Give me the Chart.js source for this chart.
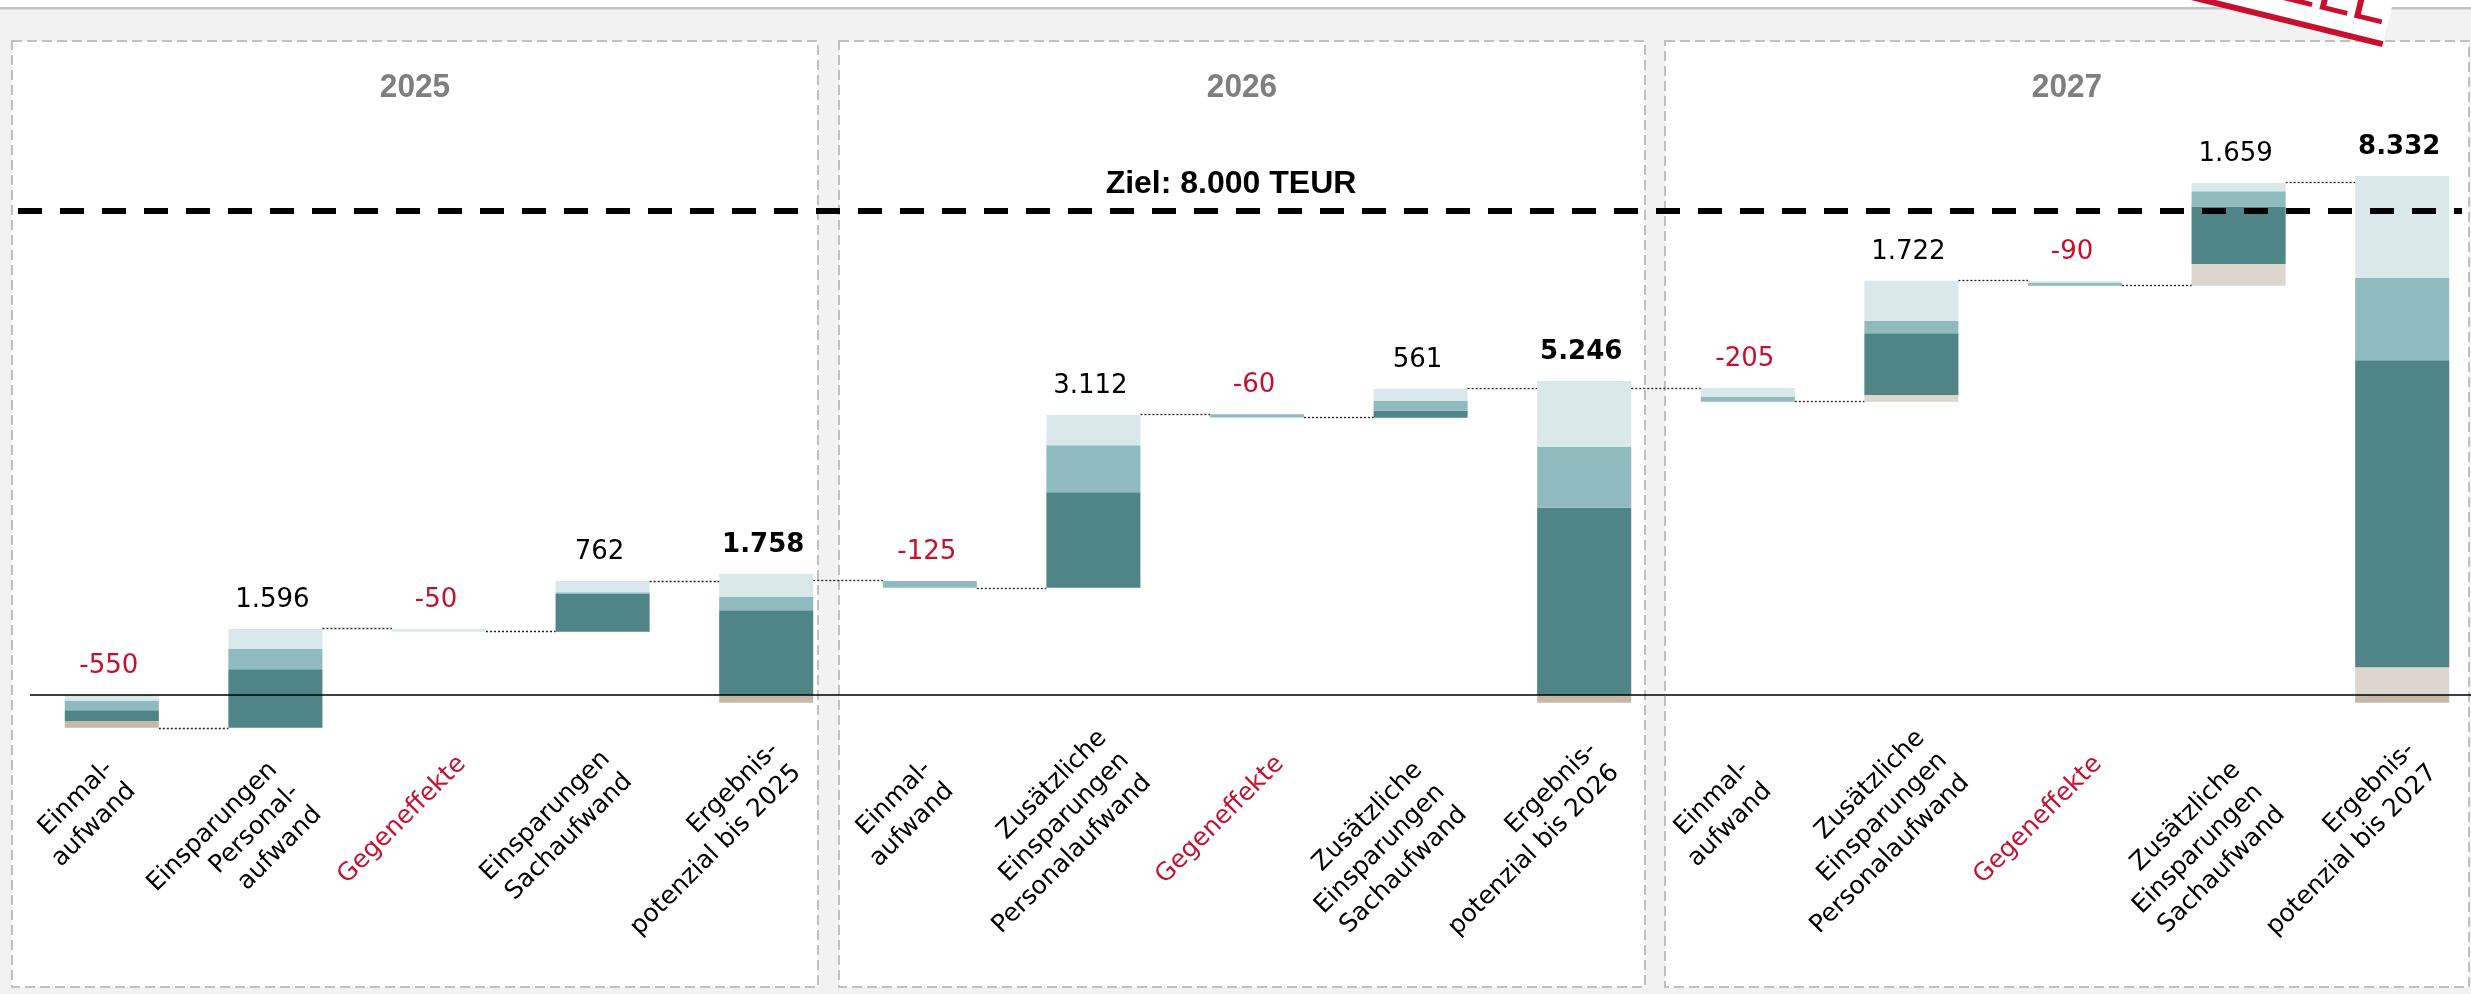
<!DOCTYPE html>
<html lang="de">
<head>
<meta charset="utf-8">
<title>Ergebnispotenzial 2025 - 2027</title>
<script src="https://cdn.jsdelivr.net/npm/chart.js@4.4.1/dist/chart.umd.min.js"></script>
<style>
  html, body { margin: 0; padding: 0; background: #f2f2f2; overflow: hidden; }
  #wrap { position: relative; width: 2471px; height: 994px; overflow: hidden; }
  #waterfall { position: absolute; left: 0; top: 0; }
</style>
</head>
<body>
<div id="wrap"><canvas id="waterfall" width="2500" height="994"></canvas></div>
<script>
const years = ["2025", "2026", "2027"];

const categories = [
  ["Einmal-", "aufwand"],
  ["Einsparungen", "Personal-", "aufwand"],
  ["Gegeneffekte"],
  ["Einsparungen", "Sachaufwand"],
  ["Ergebnis-", "potenzial bis 2025"],
  ["Einmal-", "aufwand"],
  ["Zusätzliche", "Einsparungen", "Personalaufwand"],
  ["Gegeneffekte"],
  ["Zusätzliche", "Einsparungen", "Sachaufwand"],
  ["Ergebnis-", "potenzial bis 2026"],
  ["Einmal-", "aufwand"],
  ["Zusätzliche", "Einsparungen", "Personalaufwand"],
  ["Gegeneffekte"],
  ["Zusätzliche", "Einsparungen", "Sachaufwand"],
  ["Ergebnis-", "potenzial bis 2027"],
];

// einmal / spar / gegen / ergebnis
const stepKinds = [
  "einmal", "spar", "gegen", "spar", "ergebnis",
  "einmal", "spar", "gegen", "spar", "ergebnis",
  "einmal", "spar", "gegen", "spar", "ergebnis",
];

const valueLabels = [
  "-550", "1.596", "-50", "762", "1.758",
  "-125", "3.112", "-60", "561", "5.246",
  "-205", "1.722", "-90", "1.659", "8.332",
];

// floating segments [von, bis] in TEUR
const lightTeal = [
  [-90, 0], [760, 1090], [1046, 1091], [1700, 1885], [1620, 2000],
  null, [4130, 4630], null, [4860, 5063], [4100, 5190],
  [4926, 5074], [6180, 6848], [6810, 6843], [8327, 8461], [6898, 8580],
];
const midTeal = [
  [-250, -90], [425, 760], null, [1670, 1700], [1400, 1620],
  [1774, 1884], [3350, 4130], [4585, 4640], [4700, 4860], [3096, 4100],
  [4848, 4926], [5978, 6180], [6765, 6810], [8074, 8327], [5532, 6898],
];
const darkTeal = [
  [-430, -250], [-540, 425], null, [1046, 1670], [0, 1400],
  null, [1774, 3350], null, [4583, 4700], [0, 3096],
  null, [4959, 5978], null, [7126, 8074], [458, 5532],
];
const beigeLight = [
  null, null, null, null, null,
  null, null, null, null, null,
  null, [4848, 4959], null, [6765, 7126], [0, 458],
];
const beigeDark = [
  [-540, -430], null, null, null, [-127, 0],
  null, null, null, null, [-127, 0],
  null, null, null, null, [-130, 0],
];

// dotted connector level between bar i and bar i+1
const connectors = [-540, 1100, 1063, 1889, 1893, 1774, 4645, 4590, 5070, 5074, 4854, 6860, 6772, 8480];

const targetValue = 8000;
const targetLabel = "Ziel: 8.000 TEUR";

const RED = "#c8102e";
const panels = [
  { x0: 12, x1: 818 },
  { x0: 839, x1: 1645 },
  { x0: 1665, x1: 2469 },
];

const backgroundPlugin = {
  id: "background",
  beforeDraw(chart) {
    const ctx = chart.ctx;
    ctx.save();
    ctx.fillStyle = "#f2f2f2";
    ctx.fillRect(0, 0, chart.width, chart.height);
    ctx.fillStyle = "#ffffff";
    ctx.fillRect(0, 0, chart.width, 7);
    ctx.fillStyle = "#c4c4c4";
    ctx.fillRect(0, 7, chart.width, 2.5);

    panels.forEach(function (p, i) {
      ctx.fillStyle = "#ffffff";
      ctx.fillRect(p.x0, 41, p.x1 - p.x0, 946);
      ctx.strokeStyle = "#c0c0c0";
      ctx.lineWidth = 2;
      ctx.setLineDash([10, 5]);
      ctx.strokeRect(p.x0, 41, p.x1 - p.x0, 946);
      ctx.setLineDash([]);

      ctx.save();
      ctx.translate((p.x0 + p.x1) / 2, 97);
      ctx.scale(0.93, 1);
      ctx.fillStyle = "#7f7f7f";
      ctx.font = "bold 34px 'Liberation Sans', Arial, sans-serif";
      ctx.textAlign = "center";
      ctx.textBaseline = "alphabetic";
      ctx.fillText(years[i], 0, 0);
      ctx.restore();
    });
    ctx.restore();
  },
};

function barTop(i) {
  let top = -Infinity;
  [lightTeal, midTeal, darkTeal, beigeLight, beigeDark].forEach(function (s) {
    if (s[i]) top = Math.max(top, s[i][0], s[i][1]);
  });
  return top;
}

// where the first line of a rotated label ends, relative to tick and zero line
function labelAnchor(n, w) {
  if (n === 1) return { dx: 23, dy: 65 };
  if (n === 2) return { dx: -2.3 + 0.09 * (w - 107), dy: 70 - 0.15 * (w - 107) };
  return { dx: -1 + 0.28 * (w - 176), dy: 68 - 0.77 * (w - 176) };
}

const overlayPlugin = {
  id: "overlay",
  afterDatasetsDraw(chart) {
    const ctx = chart.ctx;
    const xs = chart.scales.x;
    const ys = chart.scales.y;
    const step = xs.getPixelForValue(1) - xs.getPixelForValue(0);
    const halfW = (step * 0.575) / 2;
    ctx.save();

    // connectors
    ctx.strokeStyle = "#222";
    ctx.lineWidth = 1.3;
    ctx.setLineDash([2, 2]);
    connectors.forEach(function (v, i) {
      const y = Math.round(ys.getPixelForValue(v)) + 0.5;
      ctx.beginPath();
      ctx.moveTo(xs.getPixelForValue(i) + halfW, y);
      ctx.lineTo(xs.getPixelForValue(i + 1) - halfW, y);
      ctx.stroke();
    });
    ctx.setLineDash([]);

    // zero line
    const y0 = ys.getPixelForValue(0);
    ctx.strokeStyle = "#000";
    ctx.lineWidth = 1.5;
    ctx.beginPath();
    ctx.moveTo(chart.chartArea.left, y0);
    ctx.lineTo(chart.width, y0);
    ctx.stroke();

    // target line
    const yT = ys.getPixelForValue(targetValue);
    ctx.lineWidth = 6;
    ctx.setLineDash([24, 18]);
    ctx.beginPath();
    ctx.moveTo(18, yT);
    ctx.lineTo(2462, yT);
    ctx.stroke();
    ctx.setLineDash([]);
    ctx.fillStyle = "#000";
    ctx.font = "bold 32px 'Liberation Sans', Arial, sans-serif";
    ctx.textAlign = "center";
    ctx.textBaseline = "alphabetic";
    ctx.fillText(targetLabel, 1231, yT - 18);

    // value labels
    valueLabels.forEach(function (txt, i) {
      const kind = stepKinds[i];
      ctx.font = (kind === "ergebnis" ? "bold " : "") + "26px 'DejaVu Sans', Verdana, sans-serif";
      ctx.fillStyle = kind === "einmal" || kind === "gegen" ? RED : "#000";
      ctx.textAlign = "center";
      ctx.fillText(txt, xs.getPixelForValue(i) - 3, ys.getPixelForValue(barTop(i)) - 22);
    });

    // category labels, rotated 45 degrees, lines right aligned
    const lineStep = 22.3;
    ctx.font = "25px 'DejaVu Sans', Verdana, sans-serif";
    ctx.textAlign = "right";
    ctx.textBaseline = "middle";
    categories.forEach(function (lines, i) {
      const w = Math.max.apply(null, lines.map(function (l) { return ctx.measureText(l).width; }));
      const a = labelAnchor(lines.length, w);
      const x = xs.getPixelForValue(i) + a.dx;
      const y = y0 + a.dy;
      ctx.fillStyle = stepKinds[i] === "gegen" ? RED : "#000";
      lines.forEach(function (line, j) {
        ctx.save();
        ctx.translate(x + j * lineStep, y + j * lineStep);
        ctx.rotate(-Math.PI / 4);
        ctx.fillText(line, 0, 0);
        ctx.restore();
      });
    });
    ctx.restore();
  },
  afterDraw(chart) {
    // "MODELL" stamp, mostly outside the picture
    const ctx = chart.ctx;
    ctx.save();
    ctx.translate(2382, 47);
    ctx.rotate((13.8 * Math.PI) / 180);
    ctx.fillStyle = "#ffffff";
    ctx.fillRect(-460, -140, 460, 140);
    ctx.fillStyle = RED;
    ctx.fillRect(-460, -6, 460, 6);
    ctx.font = "64px 'Liberation Sans', Arial, sans-serif";
    ctx.textAlign = "right";
    ctx.textBaseline = "alphabetic";
    ctx.fillText("MODELL", -4, -22);
    ctx.restore();
  },
};

const ctx = document.getElementById("waterfall").getContext("2d");
const waterfall = new Chart(ctx, {
  type: "bar",
  data: {
    labels: categories.map(function (c) { return c.join(" "); }),
    datasets: [
      { label: "hell", data: lightTeal, backgroundColor: "#d9e8eb" },
      { label: "mittel", data: midTeal, backgroundColor: "#8fbbbf" },
      { label: "dunkel", data: darkTeal, backgroundColor: "#4f8587" },
      { label: "beige hell", data: beigeLight, backgroundColor: "#ddd6cf" },
      { label: "beige dunkel", data: beigeDark, backgroundColor: "#c5b8ab" },
    ],
  },
  options: {
    responsive: false,
    animation: false,
    devicePixelRatio: 1,
    layout: { padding: { left: 30, right: 16, top: 29.5, bottom: 57 } },
    datasets: { bar: { categoryPercentage: 1, barPercentage: 0.575, borderWidth: 0 } },
    plugins: {
      legend: { display: false },
      tooltip: { enabled: false },
    },
    scales: {
      x: { stacked: true, display: false },
      y: { stacked: false, display: false, min: -4000, max: 11000 },
    },
  },
  plugins: [backgroundPlugin, overlayPlugin],
});
</script>
</body>
</html>
